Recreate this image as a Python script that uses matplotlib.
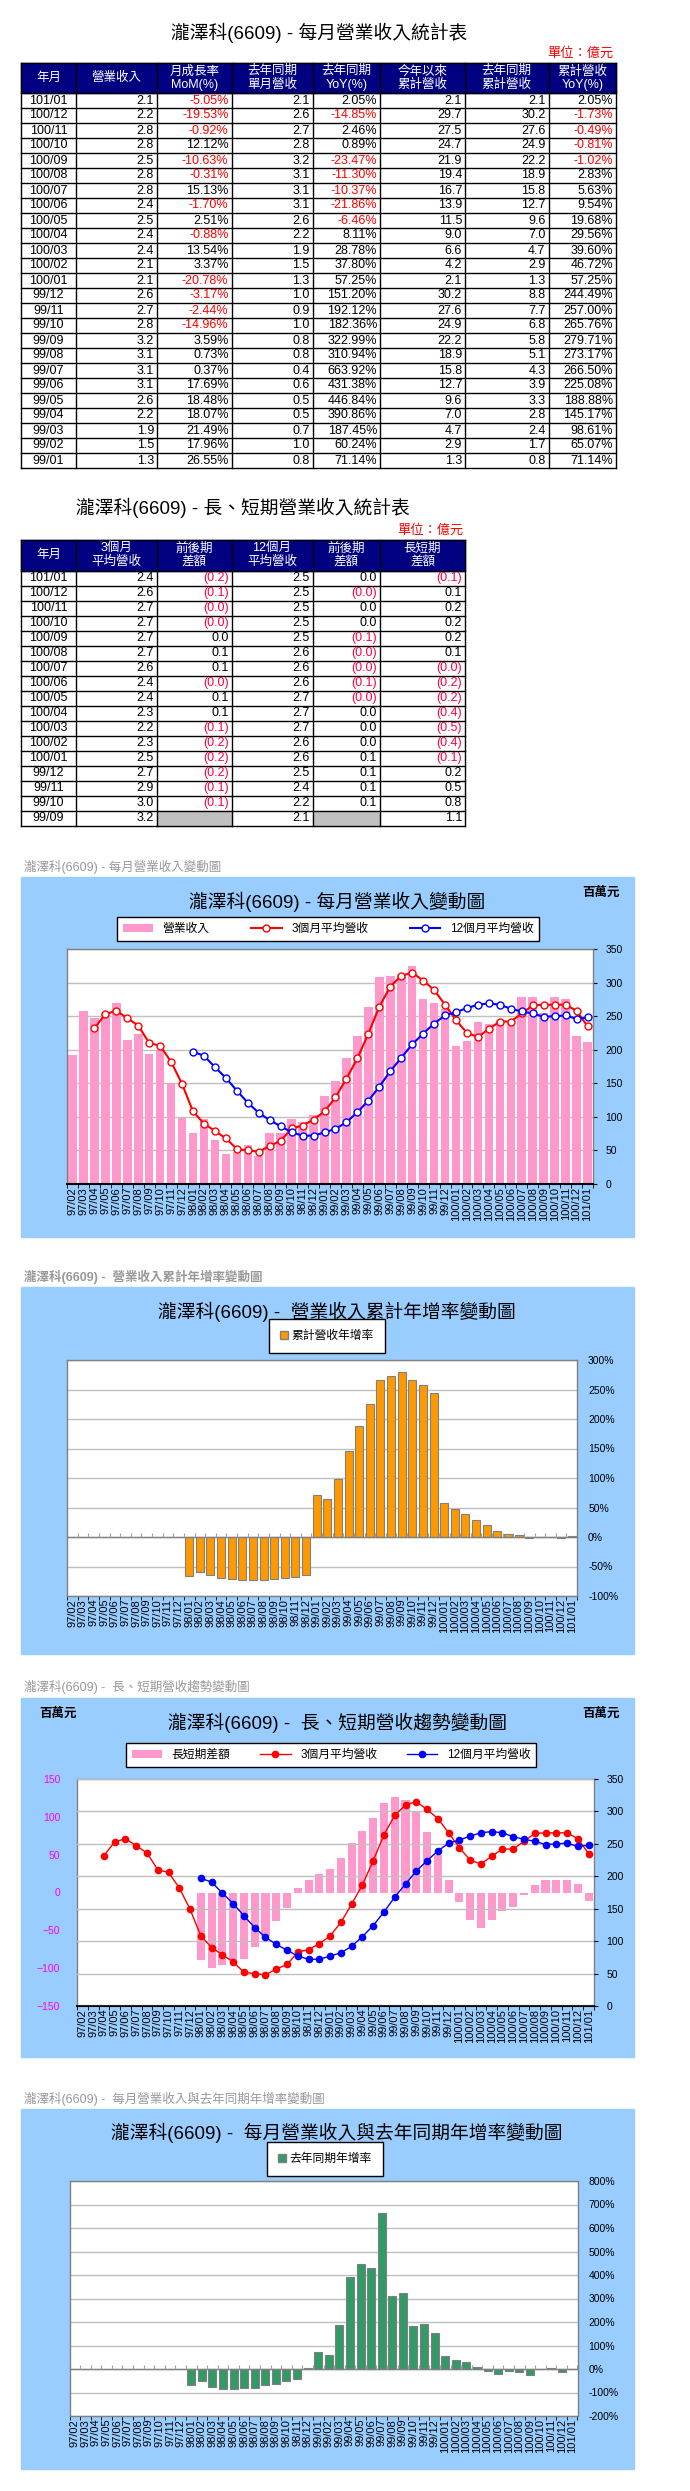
import matplotlib
matplotlib.use('Agg')
import matplotlib.pyplot as plt
from matplotlib.patches import Rectangle, Patch
from matplotlib.lines import Line2D
import numpy as np

plt.rcParams['font.family'] = ['Liberation Sans', 'Noto Sans CJK TC']

W, H = 690, 2491
nan = np.nan

# ---------------- data ----------------
months = ['97/02', '97/03', '97/04', '97/05', '97/06', '97/07', '97/08', '97/09', '97/10', '97/11', '97/12',
          '98/01', '98/02', '98/03', '98/04', '98/05', '98/06', '98/07', '98/08', '98/09', '98/10', '98/11', '98/12',
          '99/01', '99/02', '99/03', '99/04', '99/05', '99/06', '99/07', '99/08', '99/09', '99/10', '99/11', '99/12',
          '100/01', '100/02', '100/03', '100/04', '100/05', '100/06', '100/07', '100/08', '100/09', '100/10',
          '100/11', '100/12', '101/01']

# monthly revenue, 百萬元
revenue = [192, 258, 247, 254, 270, 215, 224, 194, 200, 150, 99,
           76, 97, 65, 45, 48, 58, 41, 76, 76, 97, 92, 103,
           131, 153, 188, 221, 263, 309, 310, 312, 324, 275, 269, 260,
           206, 213, 242, 239, 245, 240, 278, 278, 255, 278, 275, 221,
           211]
ma3 = [nan, nan, 232, 253, 258, 247, 236, 210, 206, 182, 149,
       108, 90, 79, 68, 52, 50, 48, 57, 64, 83, 87, 96,
       108, 129, 157, 187, 224, 264, 294, 310, 315, 303, 289, 267,
       244, 225, 219, 231, 242, 242, 254, 266, 267, 267, 267, 258,
       235]
ma12 = [nan] * 11 + [197, 191, 174, 158, 139, 121, 106, 95, 86, 77, 72, 72,
                     77, 82, 92, 107, 124, 145, 168, 188, 208, 224, 239, 251,
                     256, 262, 267, 269, 267, 261, 257, 254, 249, 250, 251, 246,
                     248]
ls_diff = [nan] * 11 + [-89, -100, -96, -89, -88, -72, -58, -38, -21, 6, 16, 24,
                        31, 46, 65, 81, 98, 118, 126, 122, 107, 80, 50, 17,
                        -12, -36, -47, -37, -24, -19, -3, 10, 17, 17, 16, 11,
                        -11]
cum_yoy = [nan] * 11 + [-66, -59, -64, -70, -72, -73, -73, -73, -71, -69, -67, -64,
                        71.14, 65.07, 98.61, 145.17, 188.88, 225.08, 266.50, 273.17, 279.71, 265.76, 257.00, 244.49,
                        57.25, 46.72, 39.60, 29.56, 19.68, 9.54, 5.63, 2.83, -1.02, -0.81, -0.49, -1.73,
                        2.05]
yoy = [nan] * 11 + [-68, -49, -76, -85, -85, -80, -80, -68, -62, -51, -42, 5,
                    71.14, 60.24, 187.45, 390.86, 446.84, 431.38, 663.92, 310.94, 322.99, 182.36, 192.12, 151.20,
                    57.25, 37.80, 28.78, 8.11, -6.46, -21.86, -10.37, -11.30, -23.47, 0.89, 2.46, -14.85,
                    2.05]

# table 1 (億元)
t1_month = ['101/01', '100/12', '100/11', '100/10', '100/09', '100/08', '100/07', '100/06', '100/05', '100/04',
            '100/03', '100/02', '100/01', '99/12', '99/11', '99/10', '99/09', '99/08', '99/07', '99/06',
            '99/05', '99/04', '99/03', '99/02', '99/01']
t1_rev = [2.1, 2.2, 2.8, 2.8, 2.5, 2.8, 2.8, 2.4, 2.5, 2.4, 2.4, 2.1, 2.1, 2.6, 2.7, 2.8, 3.2, 3.1, 3.1, 3.1,
          2.6, 2.2, 1.9, 1.5, 1.3]
t1_mom = [-5.05, -19.53, -0.92, 12.12, -10.63, -0.31, 15.13, -1.70, 2.51, -0.88, 13.54, 3.37, -20.78, -3.17,
          -2.44, -14.96, 3.59, 0.73, 0.37, 17.69, 18.48, 18.07, 21.49, 17.96, 26.55]
t1_prev = [2.1, 2.6, 2.7, 2.8, 3.2, 3.1, 3.1, 3.1, 2.6, 2.2, 1.9, 1.5, 1.3, 1.0, 0.9, 1.0, 0.8, 0.8, 0.4, 0.6,
           0.5, 0.5, 0.7, 1.0, 0.8]
t1_yoy = [2.05, -14.85, 2.46, 0.89, -23.47, -11.30, -10.37, -21.86, -6.46, 8.11, 28.78, 37.80, 57.25, 151.20,
          192.12, 182.36, 322.99, 310.94, 663.92, 431.38, 446.84, 390.86, 187.45, 60.24, 71.14]
t1_cum = [2.1, 29.7, 27.5, 24.7, 21.9, 19.4, 16.7, 13.9, 11.5, 9.0, 6.6, 4.2, 2.1, 30.2, 27.6, 24.9, 22.2, 18.9,
          15.8, 12.7, 9.6, 7.0, 4.7, 2.9, 1.3]
t1_prevcum = [2.1, 30.2, 27.6, 24.9, 22.2, 18.9, 15.8, 12.7, 9.6, 7.0, 4.7, 2.9, 1.3, 8.8, 7.7, 6.8, 5.8, 5.1,
              4.3, 3.9, 3.3, 2.8, 2.4, 1.7, 0.8]
t1_cumyoy = [2.05, -1.73, -0.49, -0.81, -1.02, 2.83, 5.63, 9.54, 19.68, 29.56, 39.60, 46.72, 57.25, 244.49,
             257.00, 265.76, 279.71, 273.17, 266.50, 225.08, 188.88, 145.17, 98.61, 65.07, 71.14]

# table 2 (億元)
t2_month = ['101/01', '100/12', '100/11', '100/10', '100/09', '100/08', '100/07', '100/06', '100/05', '100/04',
            '100/03', '100/02', '100/01', '99/12', '99/11', '99/10', '99/09']
t2_ma3 = ['2.4', '2.6', '2.7', '2.7', '2.7', '2.7', '2.6', '2.4', '2.4', '2.3', '2.2', '2.3', '2.5', '2.7',
          '2.9', '3.0', '3.2']
t2_d3 = ['(0.2)', '(0.1)', '(0.0)', '(0.0)', '0.0', '0.1', '0.1', '(0.0)', '0.1', '0.1', '(0.1)', '(0.2)',
         '(0.2)', '(0.2)', '(0.1)', '(0.1)', None]
t2_ma12 = ['2.5', '2.5', '2.5', '2.5', '2.5', '2.6', '2.6', '2.6', '2.7', '2.7', '2.7', '2.6', '2.6', '2.5',
           '2.4', '2.2', '2.1']
t2_d12 = ['0.0', '(0.0)', '0.0', '0.0', '(0.1)', '(0.0)', '(0.0)', '(0.1)', '(0.0)', '0.0', '0.0', '0.0',
          '0.1', '0.1', '0.1', '0.1', None]
t2_ls = ['(0.1)', '0.1', '0.2', '0.2', '0.2', '0.1', '(0.0)', '(0.2)', '(0.2)', '(0.4)', '(0.5)', '(0.4)',
         '(0.1)', '0.2', '0.5', '0.8', '1.1']

# ---------------- figure ----------------
fig = plt.figure(figsize=(W / 100, H / 100), dpi=100)
bg = fig.add_axes([0, 0, 1, 1])
bg.set_xlim(0, W)
bg.set_ylim(H, 0)
bg.axis('off')


def box(x0, y0, x1, y1):
    return [x0 / W, 1 - y1 / H, (x1 - x0) / W, (y1 - y0) / H]


def draw_table(cols, top, head_h, row_h, headers, rows):
    n = len(rows)
    bottom = top + head_h + n * row_h
    bg.add_patch(Rectangle((cols[0], top), cols[-1] - cols[0], head_h, color='#000080'))
    for j, h in enumerate(headers):
        bg.text((cols[j] + cols[j + 1]) / 2, top + head_h / 2, h, color='white', ha='center',
                va='center', fontsize=9, linespacing=1.15)
    for i, row in enumerate(rows):
        y = top + head_h + i * row_h
        for j, (txt, col, fill) in enumerate(row):
            if fill:
                bg.add_patch(Rectangle((cols[j], y), cols[j + 1] - cols[j], row_h, color=fill))
            if txt is None:
                continue
            if j == 0:
                bg.text((cols[0] + cols[1]) / 2, y + row_h / 2, txt, color=col, ha='center',
                        va='center', fontsize=9)
            else:
                bg.text(cols[j + 1] - 3, y + row_h / 2, txt, color=col, ha='right', va='center', fontsize=9)
    for xx in cols:
        bg.plot([xx, xx], [top, bottom], color='black', lw=1)
    bg.plot([cols[0], cols[-1]], [top, top], color='black', lw=1)
    for i in range(n + 1):
        y = top + head_h + i * row_h
        bg.plot([cols[0], cols[-1]], [y, y], color='black', lw=1)


def pct(v):
    return '%.2f%%' % v


def red_if_neg(v):
    return 'red' if v < 0 else 'black'


# table 1
bg.text(319, 33, '瀧澤科(6609) - 每月營業收入統計表', ha='center', va='center', fontsize=13.5)
bg.text(613, 53, '單位：億元', ha='right', va='center', fontsize=9.5, color='red')
rows1 = []
for i in range(len(t1_month)):
    rows1.append([(t1_month[i], 'black', None),
                  ('%.1f' % t1_rev[i], 'black', None),
                  (pct(t1_mom[i]), red_if_neg(t1_mom[i]), None),
                  ('%.1f' % t1_prev[i], 'black', None),
                  (pct(t1_yoy[i]), red_if_neg(t1_yoy[i]), None),
                  ('%.1f' % t1_cum[i], 'black', None),
                  ('%.1f' % t1_prevcum[i], 'black', None),
                  (pct(t1_cumyoy[i]), red_if_neg(t1_cumyoy[i]), None)])
draw_table([21, 76, 157, 231.5, 312.5, 380, 465, 548.5, 616], 63, 30, 15,
           ['年月', '營業收入', '月成長率\nMoM(%)', '去年同期\n單月營收', '去年同期\nYoY(%)',
            '今年以來\n累計營收', '去年同期\n累計營收', '累計營收\nYoY(%)'], rows1)

# table 2
bg.text(243, 508, '瀧澤科(6609) - 長、短期營業收入統計表', ha='center', va='center', fontsize=13.5)
bg.text(463, 530, '單位：億元', ha='right', va='center', fontsize=9.5, color='red')
neg2 = '#FF0040'


def cell2(s):
    if s is None:
        return (None, 'black', '#C0C0C0')
    return (s, neg2 if s.startswith('(') else 'black', None)


rows2 = []
for i in range(len(t2_month)):
    rows2.append([(t2_month[i], 'black', None), (t2_ma3[i], 'black', None), cell2(t2_d3[i]),
                  (t2_ma12[i], 'black', None), cell2(t2_d12[i]), cell2(t2_ls[i])])
draw_table([21, 76, 157, 231.5, 312.5, 380, 465], 540, 30.5, 15,
           ['年月', '3個月\n平均營收', '前後期\n差額', '12個月\n平均營收', '前後期\n差額', '長短期\n差額'], rows2)

# ---------------- charts ----------------
BLUE_BG = '#99CCFF'
PINK = '#FF99CC'
GRID = '#C0C0C0'
x = np.arange(len(months))


def chart_frame(cap, cap_y, top, bottom, title, title_y, bold_cap=False):
    bg.text(24, cap_y, cap, ha='left', va='center', fontsize=9, color='#999999',
            fontweight='bold' if bold_cap else 'normal')
    bg.add_patch(Rectangle((21, top), 613, bottom - top, color=BLUE_BG))
    bg.text(337, title_y, title, ha='center', va='center', fontsize=13.5)


def style_axis(ax, bottom_color='#808080', bottom_lw=1.0):
    ax.set_xlim(-0.5, len(months) - 0.5)
    for s in ('left', 'top', 'right'):
        ax.spines[s].set_color('#808080')
        ax.spines[s].set_linewidth(1)
    ax.spines['bottom'].set_color(bottom_color)
    ax.spines['bottom'].set_linewidth(bottom_lw)
    ax.set_xticks(x)
    ax.set_xticklabels(months, rotation=90, fontsize=8)
    ax.set_xticks(np.arange(len(months) + 1) - 0.5, minor=True)
    ax.tick_params(axis='x', which='major', length=0, pad=2)
    ax.tick_params(axis='x', which='minor', length=3, color='black')
    ax.grid(axis='y', color=GRID, lw=1)
    ax.set_axisbelow(True)


def legend(handles, labels, cx, cy, **kw):
    kw.setdefault('borderpad', 0.5)
    leg = fig.legend(handles, labels, loc='center', bbox_to_anchor=(cx / W, 1 - cy / H), frameon=True,
                     fancybox=False, edgecolor='black', framealpha=1, fontsize=8.5, **kw)
    leg.get_frame().set_linewidth(1)
    return leg


# chart 1: monthly revenue
chart_frame('瀧澤科(6609) - 每月營業收入變動圖', 867, 877, 1237, '瀧澤科(6609) - 每月營業收入變動圖', 902)
bg.text(601, 893, '百萬元', ha='center', va='center', fontsize=9, fontweight='bold')
ax1 = fig.add_axes(box(67, 949, 593, 1184))
ax1.bar(x, revenue, width=0.78, color=PINK)
ax1.plot(x, ma3, color='red', lw=1.5, marker='o', ms=5, mfc='white', mec='red', mew=1)
ax1.plot(x, ma12, color='blue', lw=1.5, marker='o', ms=5, mfc='white', mec='blue', mew=1)
style_axis(ax1, 'black', 1.5)
ax1.set_ylim(0, 350)
ax1.set_yticks(range(0, 351, 50))
ax1.yaxis.tick_right()
ax1.tick_params(axis='y', labelsize=7.5, length=3, pad=6)
legend([Patch(facecolor=PINK),
        Line2D([], [], color='red', lw=1.5, marker='o', ms=5, mfc='white', mec='red'),
        Line2D([], [], color='blue', lw=1.5, marker='o', ms=5, mfc='white', mec='blue')],
       ['營業收入', '3個月平均營收', '12個月平均營收'], 328, 929, ncol=3, columnspacing=3.5,
       handlelength=2.6)

# chart 2: cumulative yoy
chart_frame('瀧澤科(6609) -  營業收入累計年增率變動圖', 1277, 1287, 1654,
            '瀧澤科(6609) -  營業收入累計年增率變動圖', 1312, bold_cap=True)
ax2 = fig.add_axes(box(67, 1360, 577, 1596))
ax2.bar(x, cum_yoy, width=0.75, color='#FF9900', edgecolor='#808080', lw=0.8)
ax2.axhline(0, color='#808080', lw=1)
ax2.vlines(np.arange(len(months) + 1) - 0.5, 0, 6, color='#A0A0A0', lw=0.8)
style_axis(ax2)
ax2.set_ylim(-100, 300)
ax2.set_yticks(range(-100, 301, 50))
ax2.set_yticklabels(['%d%%' % v for v in range(-100, 301, 50)])
ax2.yaxis.tick_right()
ax2.tick_params(axis='y', labelsize=7.5, length=0, pad=8)
legend([Patch(facecolor='#FF9900', edgecolor='#808080')], ['累計營收年增率'], 327, 1336,
       handlelength=0.7, handleheight=0.7, handletextpad=0.3, borderpad=0.9)

# chart 3: long / short term
chart_frame('瀧澤科(6609) -  長、短期營收趨勢變動圖', 1687, 1698, 2057,
            '瀧澤科(6609) -  長、短期營收趨勢變動圖', 1723)
bg.text(58, 1714, '百萬元', ha='center', va='center', fontsize=9, fontweight='bold')
bg.text(601, 1714, '百萬元', ha='center', va='center', fontsize=9, fontweight='bold')
ax3 = fig.add_axes(box(77, 1779, 594, 2006))
ax3r = ax3.twinx()
ax3.bar(x, ls_diff, width=0.75, color=PINK)
style_axis(ax3, 'black', 1.5)
ax3.grid(False)
ax3.set_ylim(-150, 150)
ax3.set_yticks(range(-150, 151, 50))
ax3.tick_params(axis='y', labelsize=7.5, length=0, pad=12, labelcolor='#FF00FF')
ax3r.plot(x, ma3, color='red', lw=1, marker='o', ms=4.5)
ax3r.plot(x, ma12, color='blue', lw=1, marker='o', ms=4.5)
ax3r.set_ylim(0, 350)
ax3r.set_yticks(range(0, 351, 50))
ax3r.tick_params(axis='y', labelsize=7.5, length=3, pad=6)
ax3r.grid(axis='y', color=GRID, lw=1)
for s in ax3r.spines.values():
    s.set_visible(False)
legend([Patch(facecolor=PINK),
        Line2D([], [], color='red', lw=1, marker='o', ms=4.5),
        Line2D([], [], color='blue', lw=1, marker='o', ms=4.5)],
       ['長短期差額', '3個月平均營收', '12個月平均營收'], 331, 1755, ncol=3, columnspacing=2.5,
       handlelength=2.6)

# chart 4: monthly yoy
chart_frame('瀧澤科(6609) -  每月營業收入與去年同期年增率變動圖', 2099, 2109, 2469,
            '瀧澤科(6609) -  每月營業收入與去年同期年增率變動圖', 2133)
ax4 = fig.add_axes(box(69.5, 2181, 577.5, 2416))
ax4.bar(x, yoy, width=0.75, color='#339966', edgecolor='#808080', lw=0.8)
ax4.axhline(0, color='#808080', lw=1)
ax4.vlines(np.arange(len(months) + 1) - 0.5, 0, 15, color='#A0A0A0', lw=0.8)
style_axis(ax4)
ax4.set_ylim(-200, 800)
ax4.set_yticks(range(-200, 801, 100))
ax4.set_yticklabels(['%d%%' % v for v in range(-200, 801, 100)])
ax4.yaxis.tick_right()
ax4.tick_params(axis='y', labelsize=7.5, length=0, pad=8)
legend([Patch(facecolor='#339966', edgecolor='#808080')], ['去年同期年增率'], 325, 2159,
       handlelength=0.7, handleheight=0.7, handletextpad=0.3, borderpad=0.9)

fig.savefig('out.png', dpi=100)
